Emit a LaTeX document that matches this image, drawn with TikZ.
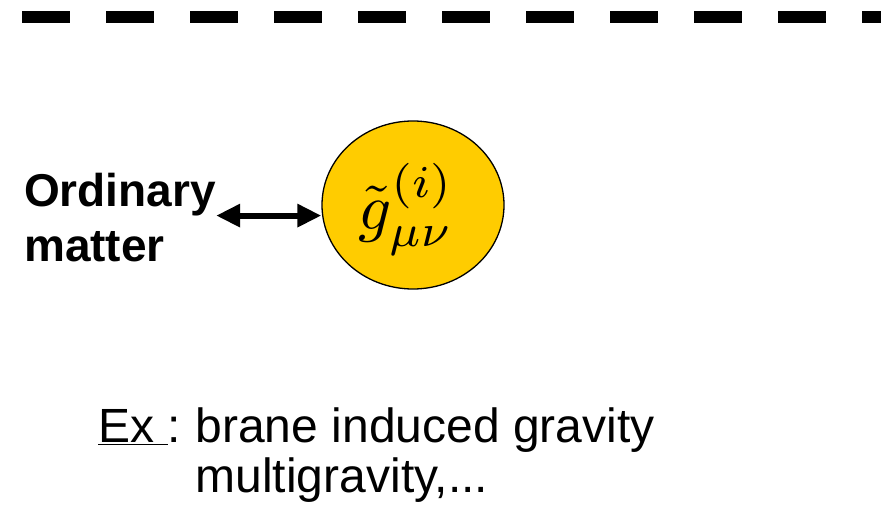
\documentclass[tikz,border=0pt]{standalone}
\usepackage{fontspec}
\setmainfont{Liberation Sans}
\usetikzlibrary{arrows.meta,shapes.geometric}
\definecolor{gold}{RGB}{255,204,0}
\begin{document}
\begin{tikzpicture}[x=1pt,y=-1pt,
  dashline/.style={line width=12pt, dash pattern=on 48pt off 36pt},
  field/.style={ellipse, draw=black, line width=1.3pt, fill=gold, minimum width=182pt, minimum height=168pt, inner sep=0pt},
  lbl/.style={font=\bfseries\fontsize{46}{55}\selectfont, align=left, inner sep=0pt},
  note/.style={font=\fontsize{48}{50}\selectfont, align=left, inner sep=0pt},
  dbl/.style={{Triangle[length=24pt,width=22pt]}-{Triangle[length=24pt,width=22pt]}, line width=6pt}]
\useasboundingbox (0,0) rectangle (881,505);
\coordinate (dl) at (22,16.7);
\coordinate (dr) at (881,16.7);
\draw[dashline] (dl) -- (dr);
\node[field] (g) at (413,205) {};
\node[scale=6.5, inner sep=0pt] (gl) at (406,209) {$\displaystyle\tilde g^{\raisebox{0.9pt}{$\scriptstyle(i)$}}_{\mu\nu}$};
\node[lbl, anchor=north west] (om) at (24,173) {Ordinary\\matter};
\draw[dbl] ([yshift=2pt]om.east) -- ([yshift=2pt]om.east -| g.west);
\node[note, anchor=north west] (ex) at (98,408) {\underline{Ex\ }:\hspace{-3pt} brane induced gravity\\\hphantom{Ex\ :\hspace{-3pt} }multigravity,...};
\end{tikzpicture}
\end{document}
